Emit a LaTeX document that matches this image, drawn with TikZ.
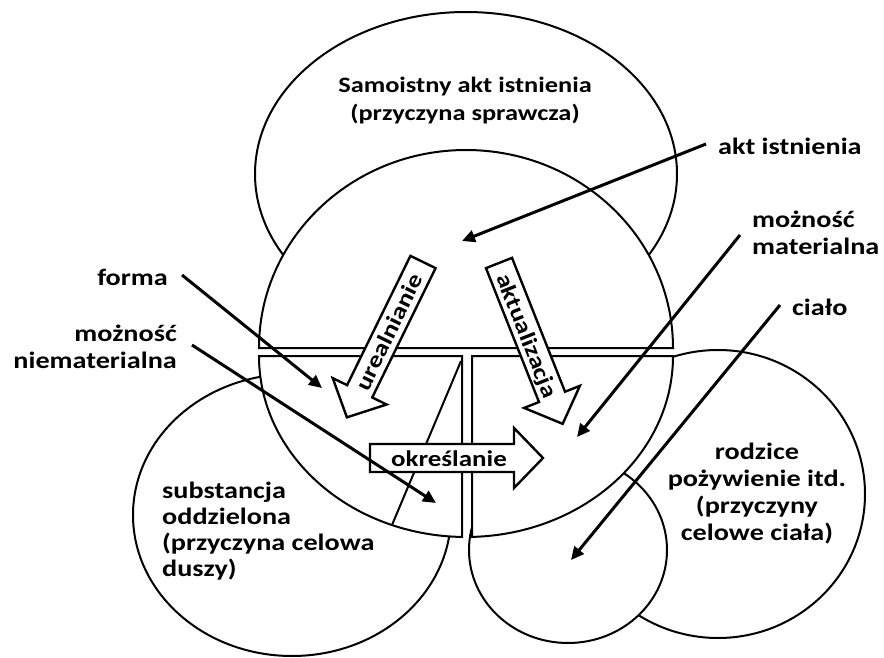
\documentclass[tikz,border=0pt]{standalone}
\usepackage{fontspec}
\setmainfont{Carlito}[FakeStretch=1.2]
\usetikzlibrary{arrows.meta}
\begin{document}
\begin{tikzpicture}[x=1pt,y=-1pt,
  shapeline/.style={line width=2pt, fill=white},
  blockline/.style={line width=2.4pt, fill=white, line join=miter},
  pointer/.style={line width=3pt, -{Triangle[length=13pt,width=12pt]}},
  lbl/.style={font=\bfseries\fontsize{23.5}{27}\selectfont, inner sep=0pt},
  lblsub/.style={font=\bfseries\fontsize{23.5}{25.8}\selectfont, inner sep=0pt},
  lbltop/.style={font=\bfseries\fontsize{22}{28}\selectfont, inner sep=0pt},
  blocktxt/.style={font=\bfseries\fontsize{22.5}{27}\selectfont, inner sep=0pt, text height=16pt, text depth=0pt},
  blockarrow/.pic={\draw[blockline] (0,-14) -- (144,-14) -- (144,-30) -- (173,0) -- (144,30) -- (144,14) -- (0,14) -- cycle;}
]
\useasboundingbox (0,0) rectangle (884,658);

% outer circles
\draw[shapeline] (466,174) ellipse [x radius=211, y radius=162];
\draw[shapeline] (292,515) ellipse [x radius=159, y radius=141];
\draw[shapeline] (718,494) ellipse [x radius=147, y radius=144];
\draw[shapeline] (568,550) ellipse [x radius=99, y radius=93];

% middle circle split in three pieces
\draw[shapeline] (259,348) arc[start angle=180, end angle=360, x radius=207, y radius=198] -- cycle;
\draw[shapeline] (259,356) arc[start angle=180, end angle=91.1, x radius=207, y radius=181] -- (462,356) -- cycle;
\draw[shapeline] (673,356) arc[start angle=0, end angle=88.3, x radius=207, y radius=181] -- (472,356) -- cycle;
\draw[line width=2pt] (461,361) -- (392,525);

% block arrows
\pic[rotate=-116.1] at (423,262) {blockarrow};
\pic[rotate=-68.4] at (499,263) {blockarrow};
\pic at (370,458) {blockarrow};
\node[blocktxt, rotate=63.9] (ureal) at (388.7,332) {urealnianie};
\node[blocktxt, rotate=-68.4] (aktual) at (527.7,335.5) {aktualizacja};
\node[blocktxt] (okresl) at (449,458) {określanie};

% labels (anchor base = baseline of the last line)
\node[lbltop, align=center, anchor=base] (samo) at (465,121) {Samoistny akt istnienia\\(przyczyna sprawcza)};
\node[lbl, anchor=base west] (akt) at (718,155) {akt istnienia};
\node[lbl, align=left, anchor=base west] (mmat) at (752,254) {możność\\materialna};
\node[lbl, anchor=base west] (cialo) at (792,315) {ciało};
\node[lbl, anchor=base east] (forma) at (168,285) {forma};
\node[lbl, align=right, anchor=base east] (mniem) at (177,368) {możność\\niematerialna};
\node[lblsub, align=left, anchor=base west] (subst) at (162,576) {substancja\\oddzielona\\(przyczyna celowa\\duszy)};
\node[lbl, align=center, anchor=base] (rodz) at (757,540) {rodzice\\pożywienie itd.\\(przyczyny\\celowe ciała)};

% pointer arrows
\coordinate (akS) at (706,144); \coordinate (akE) at (462,241);
\coordinate (mmS) at (740,235); \coordinate (mmE) at (577,437);
\coordinate (ciS) at (780,305); \coordinate (ciE) at (571,560);
\coordinate (foS) at (182,275); \coordinate (foE) at (322,388);
\coordinate (mnS) at (192,345); \coordinate (mnE) at (436,503);
\draw[pointer] (akS) -- (akE);
\draw[pointer] (mmS) -- (mmE);
\draw[pointer] (ciS) -- (ciE);
\draw[pointer] (foS) -- (foE);
\draw[pointer] (mnS) -- (mnE);
\end{tikzpicture}
\end{document}
